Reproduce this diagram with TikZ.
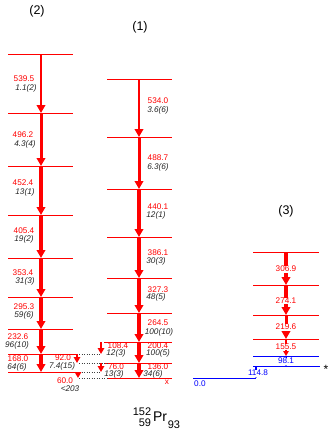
\documentclass[tikz,border=0pt]{standalone}
\usepackage{fontspec}
\setmainfont{Liberation Sans}
\usetikzlibrary{arrows.meta}
\tikzset{
  lvl/.style={red, line width=0.5pt},
  blvl/.style={blue, line width=0.6pt},
  link/.style={black!75, line width=0.5pt, dash pattern=on 1pt off 1.5pt},
  gam/.style={red, line width=#1, -{Triangle[length=8pt,width=8.5pt]}},
  sgam/.style={red, line width=#1, -{Triangle[length=6pt,width=6.5pt]}},
  bgam/.style={blue, line width=#1, -{Triangle[length=3pt,width=4pt]}},
  en/.style={text=red, font=\fontsize{8.2}{9}\selectfont, inner sep=0pt},
  inten/.style={text=black!85, font=\fontsize{8.2}{9}\selectfont\itshape, inner sep=0pt},
  onarrow/.style={fill=white, inner sep=0.6pt},
  title/.style={font=\fontsize{12.5}{13}\selectfont, inner sep=0pt}
}
\begin{document}
\begin{tikzpicture}[x=1pt,y=-1pt]
\useasboundingbox (0,0) rectangle (332,437);
% band (2)
\draw[lvl] (8,54) -- (73,54); \draw[lvl] (8,113) -- (73,113);
\draw[lvl] (8,166) -- (73,166); \draw[lvl] (8,215) -- (73,215);
\draw[lvl] (8,258) -- (73,258); \draw[lvl] (8,297) -- (73,297);
\draw[lvl] (8,329) -- (73,329); \draw[lvl] (8,354) -- (76,354);
\draw[lvl] (8,372) -- (76,372);
\draw[gam=2.5pt] (41,54) -- (41,113); \draw[gam=3pt] (41,113) -- (41,166);
\draw[gam=3.5pt] (41,166) -- (41,215); \draw[gam=4pt] (41,215) -- (41,258);
\draw[gam=4pt] (41,258) -- (41,297); \draw[gam=4pt] (41,297) -- (41,329);
\draw[gam=4pt] (41,329) -- (41,354); \draw[gam=3.5pt] (41,354) -- (41,372);
\node[en] (e5395) at (24,79) {539.5}; \node[inten] (i5395) at (26,88) {1.1(2)};
\node[en] (e4962) at (23,135) {496.2}; \node[inten] (i4962) at (25,144) {4.3(4)};
\node[en] (e4524) at (23,183) {452.4}; \node[inten] (i4524) at (25,192) {13(1)};
\node[en] (e4054) at (24,231) {405.4}; \node[inten] (i4054) at (24,239) {19(2)};
\node[en] (e3534) at (23,273) {353.4}; \node[inten] (i3534) at (25,281) {31(3)};
\node[en] (e2953) at (24,306.5) {295.3}; \node[inten] (i2953) at (24,315) {59(6)};
\node[en] (e2326) at (18,336.5) {232.6}; \node[inten] (i2326) at (17,345) {96(10)};
\node[en] (e1680) at (18,358.5) {168.0}; \node[inten] (i1680) at (17,367) {64(6)};
% band (1)
\draw[lvl] (107,79) -- (172,79); \draw[lvl] (107,137) -- (172,137);
\draw[lvl] (107,189) -- (172,189); \draw[lvl] (107,237) -- (172,237);
\draw[lvl] (107,278) -- (172,278); \draw[lvl] (107,313) -- (172,313);
\draw[lvl] (104,342) -- (172,342); \draw[lvl] (104,363) -- (172,363);
\draw[lvl] (107,378) -- (172,378);
\draw[gam=2.5pt] (139,79) -- (139,137); \draw[gam=3pt] (139,137) -- (139,189);
\draw[gam=3.5pt] (139,189) -- (139,237); \draw[gam=4pt] (139,237) -- (139,278);
\draw[gam=4pt] (139,278) -- (139,313); \draw[gam=4.5pt] (139,313) -- (139,342);
\draw[gam=4.5pt] (139,342) -- (139,363); \draw[gam=3.5pt] (139,363) -- (139,378);
\node[en] (e5340) at (158,101) {534.0}; \node[inten] (i5340) at (158,110) {3.6(6)};
\node[en] (e4887) at (158,158) {488.7}; \node[inten] (i4887) at (158,167) {6.3(6)};
\node[en] (e4401) at (158,206.5) {440.1}; \node[inten] (i4401) at (156,215) {12(1)};
\node[en] (e3861) at (158,252.5) {386.1}; \node[inten] (i3861) at (156,261) {30(3)};
\node[en] (e3273) at (158,289.5) {327.3}; \node[inten] (i3273) at (156,297.5) {48(5)};
\node[en] (e2645) at (158,323) {264.5}; \node[inten] (i2645) at (159,332) {100(10)};
\node[en] (e2004) at (158,345.5) {200.4}; \node[inten] (i2004) at (158,353.5) {100(5)};
\node[en] (e1360) at (158,366.5) {136.0}; \node[inten] (i1360) at (153,374.5) {34(6)};
\node[text=red, font=\fontsize{8.2}{9}\selectfont, inner sep=0pt] (gnd) at (167,382) {x};
% links between (2) and (1)
\draw[link] (79,354) -- (100,354); \draw[link] (79,363) -- (107,363);
\draw[link] (79,372) -- (100,372); \draw[link] (79,378) -- (107,378);
\draw[sgam=2.5pt] (101,342) -- (101,354); \draw[sgam=2.5pt] (101,363) -- (101,372);
\draw[sgam=2pt] (77,354) -- (77,363); \draw[sgam=1.8pt] (78,372) -- (78,378);
\node[en] (e1084) at (118,345.5) {108.4}; \node[inten] (i1084) at (116,353.5) {12(3)};
\node[en] (e760) at (116,366.5) {76.0}; \node[inten] (i760) at (114,374.5) {13(3)};
\node[en] (e920) at (63,357.5) {92.0}; \node[inten] (i920) at (62,366) {7.4(15)};
\node[en] (e600) at (65,380.5) {60.0}; \node[inten] (i600) at (70,389) {<203};
% band (3)
\draw[lvl] (253,252) -- (319,252); \draw[lvl] (253,285) -- (319,285);
\draw[lvl] (253,315) -- (319,315); \draw[lvl] (253,339) -- (319,339);
\draw[blvl] (253,356) -- (319,356); \draw[blvl] (253,366) -- (320,366);
\draw[blvl] (193,378) -- (256,378);
\draw[gam=4pt] (286,252) -- (286,285); \draw[gam=3.5pt] (286,285) -- (286,315);
\draw[gam=3pt] (286,315) -- (286,339);
\draw[red, line width=2pt, -{Triangle[length=5pt,width=5.5pt]}] (286,339) -- (286,356);
\draw[bgam=1pt] (286,356) -- (286,366); \draw[bgam=2.5pt] (256,366) -- (256,378);
\node[en, onarrow] (e3069) at (286,269) {306.9};
\node[en, onarrow] (e2741) at (286,301) {274.1};
\node[en, onarrow] (e2196) at (286,327) {219.6};
\node[en, onarrow] (e1555) at (286,347) {155.5};
\node[en, onarrow, text=blue] (e981) at (286,361) {98.1};
\node[en, onarrow, text=blue] (e1148) at (258,373) {114.8};
\node[en, text=blue, anchor=west] (gs) at (194,384) {0.0};
\node[font=\fontsize{12}{12}\selectfont, inner sep=0pt] (star) at (326,369) {*};
% titles
\node[title] (t2) at (37,11) {(2)};
\node[title] (t1) at (140,27) {(1)};
\node[title] (t3) at (286,211) {(3)};
\node[font=\fontsize{11}{11}\selectfont, inner sep=0pt] (amass) at (142,412) {152};
\node[font=\fontsize{11}{11}\selectfont, inner sep=0pt] (zno) at (145,423) {59};
\node[font=\fontsize{14}{14}\selectfont, inner sep=0pt] (elem) at (160,417) {Pr};
\node[font=\fontsize{11}{11}\selectfont, inner sep=0pt] (nno) at (174,425) {93};
\end{tikzpicture}
\end{document}
